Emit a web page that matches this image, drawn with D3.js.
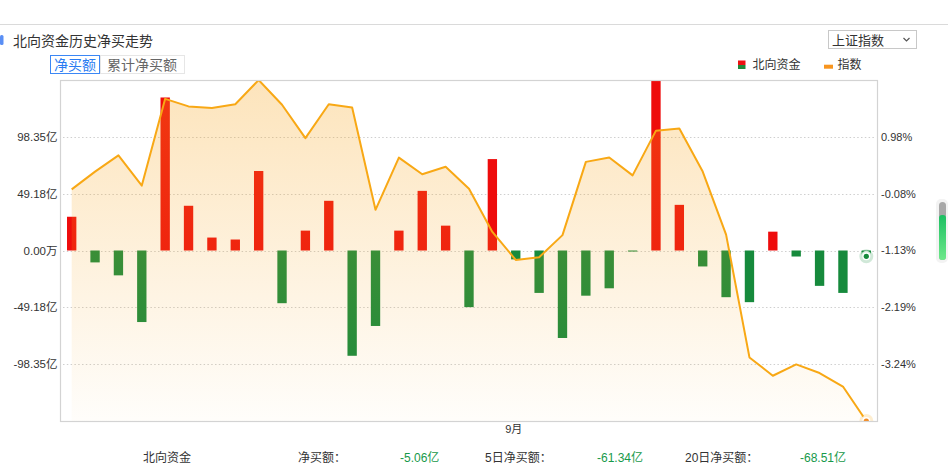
<!DOCTYPE html>
<html><head><meta charset="utf-8">
<script src="https://cdn.jsdelivr.net/npm/d3@7/dist/d3.min.js"></script>
<style>
html,body{margin:0;padding:0;background:#fff;}
svg{display:block;font-family:"Liberation Sans","Noto Sans CJK SC",sans-serif;}
</style></head>
<body>
<svg id="c" width="948" height="469"></svg>
<script>
// ---- data ----
const dates = ["08-07","08-08","08-09","08-10","08-11","08-14","08-15","08-16","08-17","08-18",
  "08-21","08-22","08-23","08-24","08-25","08-28","08-29","08-30","08-31","09-01",
  "09-04","09-05","09-06","09-07","09-08","09-11","09-12","09-13","09-14","09-15",
  "09-18","09-19","09-20","09-21","09-22"];
const netBuy = [29.2,-10.3,-21.5,-61.9,132.4,38.7,11.2,9.5,68.8,-45.6,
  17.2,43.0,-91.1,-65.3,17.2,51.6,21.5,-49.0,79.1,-7.7,
  -36.7,-75.7,-39.1,-32.7,-0.9,147.53,39.5,-13.8,-40.4,-44.7,
  16.3,-5.2,-30.6,-36.7,-5.06];
const indexPct = [0.00,0.33,0.63,0.07,1.68,1.54,1.51,1.58,2.03,1.57,
  0.95,1.58,1.52,-0.38,0.59,0.28,0.42,0.01,-0.79,-1.31,
  -1.26,-0.85,0.51,0.59,0.26,1.09,1.13,0.33,-0.84,-3.12,
  -3.46,-3.25,-3.41,-3.66,-4.30];
const leftTicks = [98.35,49.18,0,-49.18,-98.35];
const leftTickLabels = ["98.35亿","49.18亿","0.00万","-49.18亿","-98.35亿"];
const rightTicks = [0.98,-0.08,-1.13,-2.19,-3.24];
const rightTickLabels = ["0.98%","-0.08%","-1.13%","-2.19%","-3.24%"];
const xTickDates = ["09-01"];
const xTickLabels = ["9月"];
const summaryLabels = ["净买额：","5日净买额：","20日净买额："];
const summaryValues = ["-5.06亿","-61.34亿","-68.51亿"];

// ---- layout ----
const svg = d3.select("#c");
const L = 60, R = 878, T = 80, B = 421;
const x = d3.scaleBand().domain(dates).range([L, R]).paddingInner(0.6).paddingOuter(0.3);
const cx = d => x(d) + x.bandwidth()/2;
const yL = d3.scaleLinear().domain([-147.53, 147.53]).range([B, T]);
const yR = d3.scaleLinear().domain([-4.30, 2.03]).range([B, T]);

const defs = svg.append("defs");
defs.append("clipPath").attr("id","plot").append("rect").attr("x",L).attr("y",T).attr("width",R-L).attr("height",B-T);
const ag = defs.append("linearGradient").attr("id","ag").attr("gradientUnits","userSpaceOnUse")
  .attr("x1",0).attr("y1",T).attr("x2",0).attr("y2",B);
ag.append("stop").attr("offset",0).attr("stop-color","#f7a51e").attr("stop-opacity",0.30);
ag.append("stop").attr("offset",1).attr("stop-color","#f7a51e").attr("stop-opacity",0.02);
const sg = defs.append("linearGradient").attr("id","sg").attr("x1",0).attr("y1",0).attr("x2",0).attr("y2",1);
sg.append("stop").attr("offset",0).attr("stop-color","#1cbf62");
sg.append("stop").attr("offset",1).attr("stop-color","#6ee88a");
const lg = defs.append("linearGradient").attr("id","lg").attr("x1",0).attr("y1",0).attr("x2",0).attr("y2",1);
lg.append("stop").attr("offset",0.5).attr("stop-color","#ee1111");
lg.append("stop").attr("offset",0.5).attr("stop-color","#1f8a3a");

// ---- header ----
svg.append("line").attr("x1",0).attr("x2",948).attr("y1",24.5).attr("y2",24.5).attr("stroke","#dadada");
svg.append("rect").attr("x",0).attr("y",35).attr("width",3.5).attr("height",10).attr("rx",1.5).attr("fill","#5a8ff5");
svg.append("text").attr("x",13).attr("y",46).attr("font-size",14).attr("fill","#333").text("北向资金历史净买走势");

svg.append("rect").attr("x",50.5).attr("y",55.5).attr("width",49).attr("height",18).attr("fill","#fff").attr("stroke","#3b87f5");
svg.append("text").attr("x",75).attr("y",69.5).attr("text-anchor","middle").attr("font-size",14).attr("fill","#2a7cf2").text("净买额");
svg.append("rect").attr("x",100.5).attr("y",55.5).attr("width",84).attr("height",18).attr("fill","#fff").attr("stroke","#e6e6e6");
svg.append("text").attr("x",142).attr("y",69.5).attr("text-anchor","middle").attr("font-size",14).attr("fill","#666").text("累计净买额");

svg.append("rect").attr("x",828.5).attr("y",30.5).attr("width",88).attr("height",18).attr("fill","#fff").attr("stroke","#c8c8c8");
svg.append("text").attr("x",832).attr("y",44.5).attr("font-size",13).attr("fill","#333").text("上证指数");
svg.append("polyline").attr("points","903.5,38 906.5,41 909.5,38").attr("fill","none").attr("stroke","#555").attr("stroke-width",1.2);

// legend
svg.append("rect").attr("x",738).attr("y",60.5).attr("width",7.5).attr("height",8.5).attr("fill","url(#lg)");
svg.append("text").attr("x",752.5).attr("y",69).attr("font-size",12).attr("fill","#333").text("北向资金");
svg.append("rect").attr("x",824).attr("y",64.7).attr("width",9).attr("height",4).attr("fill","#f8951e");
svg.append("text").attr("x",837.5).attr("y",69).attr("font-size",12).attr("fill","#333").text("指数");

// ---- grid ----
svg.append("g").selectAll("line").data(leftTicks).join("line")
  .attr("x1",L+3).attr("x2",R-2).attr("y1",d=>Math.round(yL(d))+0.5).attr("y2",d=>Math.round(yL(d))+0.5)
  .attr("stroke","#cfcfcf").attr("stroke-dasharray","1.5,2.3");

// ---- bars ----
const plot = svg.append("g").attr("clip-path","url(#plot)");
plot.append("g").selectAll("rect").data(netBuy).join("rect")
  .attr("x",(d,i)=>x(dates[i]))
  .attr("width",x.bandwidth())
  .attr("y",d=>yL(Math.max(0,d)))
  .attr("height",d=>Math.abs(yL(d)-yL(0)))
  .attr("fill",d=>d>=0?"#ee0c0c":"#168a3c");

// ---- area + line ----
const pts = indexPct.map((v,i)=>[cx(dates[i]), yR(v)]);
plot.append("path").datum(indexPct)
  .attr("d", d3.area().x((d,i)=>cx(dates[i])).y0(B).y1(d=>yR(d))(indexPct))
  .attr("fill","url(#ag)");
plot.append("path")
  .attr("d", d3.line().x((d,i)=>cx(dates[i])).y(d=>yR(d))(indexPct))
  .attr("fill","none").attr("stroke","#f8a815").attr("stroke-width",2).attr("stroke-linejoin","round");

// markers at last point
const lastI = dates.length-1;
const lx = cx(dates[lastI]);
plot.append("circle").attr("cx",lx).attr("cy",yL(netBuy[lastI])).attr("r",5.5).attr("fill","#fff").attr("stroke","rgba(22,138,60,0.2)").attr("stroke-width",3);
plot.append("circle").attr("cx",lx).attr("cy",yL(netBuy[lastI])).attr("r",2.6).attr("fill","#168a3c");
plot.append("circle").attr("cx",lx).attr("cy",yR(indexPct[lastI])).attr("r",5.5).attr("fill","#fff").attr("stroke","rgba(248,168,21,0.2)").attr("stroke-width",3);
plot.append("circle").attr("cx",lx).attr("cy",yR(indexPct[lastI])).attr("r",2.6).attr("fill","#f58a1e");

// border
svg.append("rect").attr("x",L+0.5).attr("y",T+0.5).attr("width",R-L-1).attr("height",B-T).attr("fill","none").attr("stroke","#d3d3d3").attr("stroke-width",1.2);

// ---- axes labels ----
svg.append("g").selectAll("text").data(leftTicks).join("text")
  .attr("x",57.5).attr("y",d=>yL(d)).attr("dy","0.36em").attr("text-anchor","end")
  .attr("font-size",11.5).attr("fill","#333").text((d,i)=>leftTickLabels[i]);
svg.append("g").selectAll("text").data(rightTicks).join("text")
  .attr("x",881).attr("y",d=>yR(d)).attr("dy","0.36em")
  .attr("font-size",11).attr("fill","#333").text((d,i)=>rightTickLabels[i]);
svg.append("g").selectAll("text").data(xTickDates).join("text")
  .attr("x",d=>cx(d)-2).attr("y",433).attr("text-anchor","middle")
  .attr("font-size",11).attr("fill","#333").text((d,i)=>xTickLabels[i]);

// ---- summary ----
svg.append("text").attr("x",143).attr("y",462).attr("font-size",12).attr("fill","#333").text("北向资金");
const sx = [298,485,685], vx = [400,597,800];
summaryLabels.forEach((t,i)=>{
  svg.append("text").attr("x",sx[i]).attr("y",462).attr("font-size",12).attr("fill","#333").text(t);
  svg.append("text").attr("x",vx[i]).attr("y",462).attr("font-size",12).attr("fill","#17994a").text(summaryValues[i]);
});

// scroll indicator
svg.append("rect").attr("x",936).attr("y",199).attr("width",12).attr("height",64).attr("rx",5).attr("fill","#f3f3f3");
svg.append("rect").attr("x",939).attr("y",202).attr("width",7).attr("height",58).attr("rx",3.5).attr("fill","#a8a8a8");
svg.append("rect").attr("x",939).attr("y",215).attr("width",7).attr("height",45).attr("rx",3).attr("fill","url(#sg)");
</script>
</body></html>
